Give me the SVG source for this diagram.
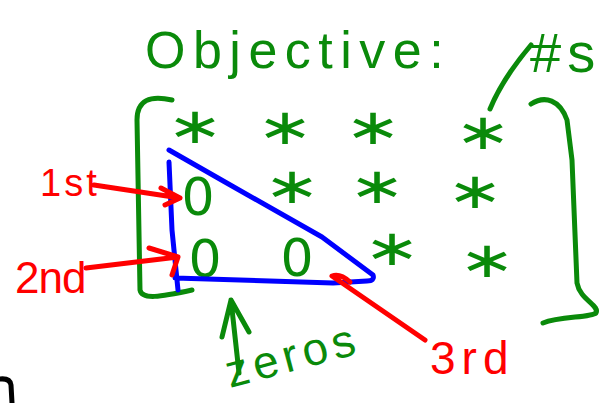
<svg xmlns="http://www.w3.org/2000/svg" width="613" height="403" viewBox="0 0 613 403">
<style>
.g{fill:#0a8a0a;font-family:"Liberation Sans",Arial,sans-serif}
.r{fill:#ff0000;font-family:"Liberation Sans",Arial,sans-serif}
.ink{fill:none;stroke-width:5;stroke-linecap:round;stroke-linejoin:round}
.gs{stroke:#0a8a0a}.rs{stroke:#ff0000}.bs{stroke:#0000ff}.ks{stroke:#000}
.star{fill:#0a8a0a;font-family:"DejaVu Sans",sans-serif;font-size:50px;text-anchor:middle}
.zero{fill:#0a8a0a;font-family:"DejaVu Sans",sans-serif;font-size:52px;text-anchor:middle}
</style>
<rect width="613" height="403" fill="#fff"/>
<g id="title"><text class="g" x="145" y="68" font-size="52" letter-spacing="7.5">Objective:</text></g>
<g id="hash-label"><text class="g" x="530" y="72" font-size="56" letter-spacing="6">#s</text></g>
<g id="matrix">
<path class="ink gs" d="M172,100 C150,95 137,100 137,120 L140,290 C142,300 160,297 192,290"/>
<path class="ink gs" d="M531,104 C545,95 560,100 567,120 L572,160 L577,283 C580,300 600,305 596,313 C590,318 560,316 543,323"/>
<text class="star" transform="translate(195,142.5) scale(1.35,1)">∗</text>
<text class="star" transform="translate(285,143.5) scale(1.35,1)">∗</text>
<text class="star" transform="translate(373,144) scale(1.35,1)">∗</text>
<text class="star" transform="translate(483,148.5) scale(1.35,1)">∗</text>
<text class="star" transform="translate(292,202.5) scale(1.35,1)">∗</text>
<text class="star" transform="translate(377,203) scale(1.35,1)">∗</text>
<text class="star" transform="translate(475,208) scale(1.35,1)">∗</text>
<text class="star" transform="translate(392,264.5) scale(1.35,1)">∗</text>
<text class="star" transform="translate(487,276.5) scale(1.35,1)">∗</text>
<text class="zero" x="198" y="215">0</text>
<text class="zero" x="205" y="277">0</text>
<text class="zero" x="297" y="276">0</text>
</g>
<g id="triangle"><path class="ink bs" d="M169,150 L225,182 L322,237 L373,275 Q375,281 367,281 L333,283 L175,278 M169,162 L172,230 L178,290"/></g>
<g id="label-1st"><text class="r" x="40" y="196" font-size="38" letter-spacing="3">1st</text></g>
<g id="label-2nd"><text class="r" x="15" y="293" font-size="44" letter-spacing="-1">2nd</text></g>
<g id="label-3rd"><text class="r" x="430" y="374" font-size="46" letter-spacing="6">3rd</text></g>
<g id="label-zeros"><text class="g" x="230" y="388" font-size="46" letter-spacing="5" transform="rotate(-15 230 388)">zeros</text></g>
<g id="connectors">
<path class="ink gs" d="M490,109 Q503,78 531,45"/>
<path class="ink rs" d="M94,185 L180,198 M161,188 L180,198 L165,205"/>
<path class="ink rs" d="M86,268 L178,257 M149,248 L178,257 L172,275"/>
<path class="ink rs" d="M425,340 L332,276 Q340,273 350,282"/>
<path class="ink gs" d="M239,373 L231,300 M222,337 L231,300 L249,332"/>
<path class="ink ks" d="M0,379 Q10,378 11,385 L12,403"/>
</g>
</svg>
